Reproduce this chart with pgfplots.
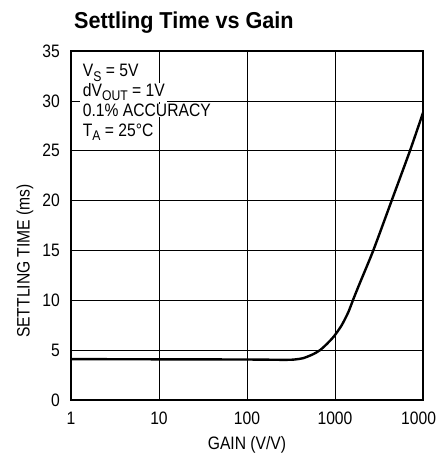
\documentclass[border=0pt]{standalone}
\usepackage{fontspec}
\setmainfont{Liberation Sans}[FakeStretch=0.87]
\newfontfamily\titlefont{Liberation Sans}[FakeStretch=0.94]
\usepackage{pgfplots}
\pgfplotsset{compat=1.18}
\newcommand{\sub}[1]{\raisebox{-4.5pt}{\fontsize{14}{14}\selectfont #1}}
\begin{document}
\begin{tikzpicture}
\fontsize{18}{20}\selectfont
\begin{axis}[
  at={(0,0)}, anchor=south west, scale only axis,
  width=352pt, height=349pt,
  xmode=log, xmin=1, xmax=10000, ymin=0, ymax=35,
  xtick={1,10,100,1000,10000}, xticklabels={1,10,100,1000,10000},
  ytick={0,5,...,35},
  xminorticks=false,
  grid=major, major grid style={black, line width=0.7pt},
  axis line style={black, line width=1.4pt},
  major tick length=0pt, minor tick length=0pt,
  tick label style={font=\fontsize{18}{18}\selectfont, /pgf/number format/assume math mode=true},
  xticklabel style={anchor=north, inner sep=0pt, yshift=-12pt},
  yticklabel style={anchor=east, inner sep=0pt, xshift=-11pt},
]
\addplot[black, line width=2.4pt, line join=round, line cap=round, smooth, tension=0.4] coordinates {
 (1,4.1) (10,4.08) (100,4.06) (250,4.03) (336,4.05) (437,4.2) (567,4.6)
 (676,5.0) (804,5.6) (977,6.4) (1192,7.5) (1416,8.8) (1614,10.1)
 (1890,11.6) (2724,15) (4406,20) (7115,25) (10000,28.8)
};
\end{axis}
\fill[white] (9pt,259pt) rectangle (88pt,344pt);
\node[anchor=base west, fill=white, inner xsep=2pt, inner ysep=0pt, text depth=6pt] at (9.7pt,304pt) {dV\sub{OUT} = 1V};
\node[anchor=base west, fill=white, inner xsep=2pt, inner ysep=0pt] at (9.7pt,283.3pt) {0.1\% ACCURACY};
\node[anchor=base west, inner sep=0pt] at (11.7pt,323.3pt) {V\sub{S} = 5V};
\node[anchor=base west, inner sep=0pt] at (11.7pt,264pt) {T\sub{A} = 25°C};
\node[anchor=base west, font=\titlefont\bfseries\fontsize{23}{23}\selectfont, inner sep=0pt] at (3pt,371.7pt) {Settling Time vs Gain};
\node[anchor=base, inner sep=0pt] at (176pt,-49pt) {GAIN (V/V)};
\node[rotate=90, anchor=center, inner sep=0pt] at (-46pt,139pt) {SETTLING TIME (ms)};
\pgfresetboundingbox
\useasboundingbox (-71pt,-59pt) rectangle (365pt,400pt);
\end{tikzpicture}
\end{document}
